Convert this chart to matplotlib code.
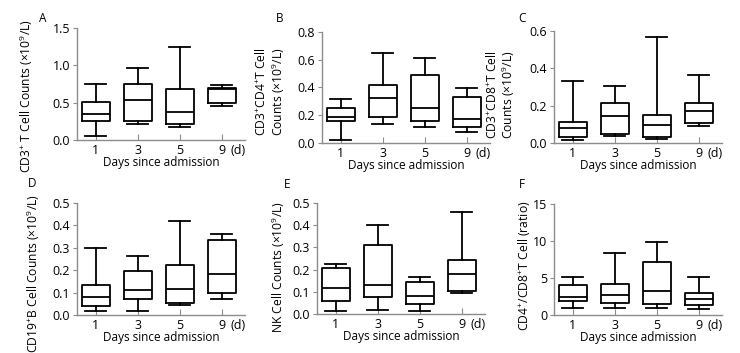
import numpy as np
import matplotlib
matplotlib.use("Agg")
from matplotlib import pyplot as plt

plt.rcParams['font.family'] = ['Open Sans', 'DejaVu Sans']
plt.rcParams['mathtext.fontset'] = 'custom'
plt.rcParams['mathtext.rm'] = 'Open Sans'
plt.rcParams['mathtext.it'] = 'Open Sans'

days = ["1", "3", "5", "9"]

# each box: (whislo, q1, median, q3, whishi)
cd3 = [(0.05, 0.26, 0.35, 0.51, 0.75),
       (0.21, 0.25, 0.54, 0.75, 0.97),
       (0.17, 0.21, 0.37, 0.68, 1.25),
       (0.45, 0.50, 0.68, 0.70, 0.74)]
cd4 = [(0.02, 0.155, 0.19, 0.255, 0.32),
       (0.14, 0.19, 0.325, 0.42, 0.65),
       (0.115, 0.16, 0.255, 0.49, 0.615),
       (0.08, 0.115, 0.17, 0.33, 0.395)]
cd8 = [(0.015, 0.03, 0.08, 0.115, 0.33),
       (0.04, 0.05, 0.145, 0.215, 0.305),
       (0.02, 0.03, 0.095, 0.15, 0.57),
       (0.09, 0.105, 0.17, 0.215, 0.365)]
cd19 = [(0.02, 0.04, 0.08, 0.135, 0.30),
        (0.02, 0.07, 0.11, 0.195, 0.265),
        (0.045, 0.055, 0.115, 0.225, 0.42),
        (0.07, 0.10, 0.185, 0.335, 0.36)]
nk = [(0.015, 0.06, 0.115, 0.205, 0.225),
      (0.02, 0.075, 0.13, 0.31, 0.40),
      (0.015, 0.045, 0.08, 0.145, 0.165),
      (0.095, 0.105, 0.18, 0.245, 0.46)]
ratio = [(1.0, 1.9, 2.4, 4.0, 5.1),
         (1.0, 1.6, 2.7, 4.2, 8.4),
         (1.0, 1.5, 3.3, 7.2, 9.8),
         (0.8, 1.4, 2.2, 3.0, 5.1)]

panels = [
    ("A", cd3, r"CD3$^{+}$ T Cell Counts (×10$^{9}$/L)", (0, 1.5), [0.0, 0.5, 1.0, 1.5], "%.1f"),
    ("B", cd4, "CD3$^{+}$CD4$^{+}$T Cell\nCounts (×10$^{9}$/L)", (0, 0.8), [0.0, 0.2, 0.4, 0.6, 0.8], "%.1f"),
    ("C", cd8, "CD3$^{+}$CD8$^{+}$T Cell\nCounts (×10$^{9}$/L)", (0, 0.6), [0.0, 0.2, 0.4, 0.6], "%.1f"),
    ("D", cd19, r"CD19$^{+}$B Cell Counts (×10$^{9}$/L)", (0, 0.5), [0.0, 0.1, 0.2, 0.3, 0.4, 0.5], "%.1f"),
    ("E", nk, r"NK Cell Counts (×10$^{9}$/L)", (0, 0.5), [0.0, 0.1, 0.2, 0.3, 0.4, 0.5], "%.1f"),
    ("F", ratio, r"CD4$^{+}$/CD8$^{+}$T Cell (ratio)", (0, 15), [0, 5, 10, 15], "%d"),
]

W, H = 740, 353
# axes: left, top, bottom in pixels
boxes_px = [(77, 28, 140), (322, 32, 143), (554, 31, 143),
            (77, 203, 315), (317, 203, 314), (554, 204, 315)]
# ylabel anchor in axes fraction
label_xy = [(-0.25, 0.39), (-0.21, 0.46), (-0.22, 0.43),
            (-0.21, 0.37), (-0.18, 0.42), (-0.13, 0.44)]
# panel letter positions in pixels
letter_px = [(43, 18), (280, 18), (522, 18), (32, 183), (287, 185), (522, 185)]
ax_w = 168

fig = plt.figure(figsize=(W / 100, H / 100), dpi=100)
grey = "#8c8c8c"

for i, (letter, data, ylab, ylim, yticks, fmt) in enumerate(panels):
    lx, ty, by = boxes_px[i]
    ax = fig.add_axes([lx / W, 1 - by / H, ax_w / W, (by - ty) / H])
    stats = [dict(whislo=d[0], q1=d[1], med=d[2], q3=d[3], whishi=d[4], label=lab)
             for d, lab in zip(data, days)]
    ax.bxp(stats, positions=[1, 2, 3, 4], widths=0.66, showfliers=False,
           capwidths=0.5,
           boxprops=dict(color="black", lw=1.3),
           whiskerprops=dict(color="black", lw=1.3),
           capprops=dict(color="black", lw=1.3),
           medianprops=dict(color="black", lw=1.3))
    ax.set_xlim(0.55, 4.55)
    ax.set_ylim(*ylim)
    ax.set_yticks(yticks)
    ax.set_yticklabels([fmt % v for v in yticks])
    ax.set_xticks([1, 2, 3, 4])
    ax.set_xticklabels(days)
    for s in ["top", "right"]:
        ax.spines[s].set_visible(False)
    for s in ["left", "bottom"]:
        ax.spines[s].set_color(grey)
        ax.spines[s].set_linewidth(1.0)
    ax.tick_params(axis="x", direction="in", length=4, color=grey, labelsize=9, pad=3)
    ax.tick_params(axis="y", direction="out", length=3, color=grey, labelsize=9, pad=2)
    ax.set_xlabel("Days since admission", fontsize=8.5, labelpad=-1)
    ax.set_ylabel(ylab, fontsize=8.7, linespacing=1.1)
    ax.yaxis.set_label_coords(*label_xy[i])
    ax.annotate("(d)", xy=(4, 0), xycoords=("data", "axes fraction"),
                xytext=(6, -3), textcoords="offset points", ha="left", va="top", fontsize=9)
    px, py = letter_px[i]
    fig.text(px / W, 1 - py / H, letter, fontsize=8.5, ha="center", va="center")

fig.savefig("out.png", dpi=100)
